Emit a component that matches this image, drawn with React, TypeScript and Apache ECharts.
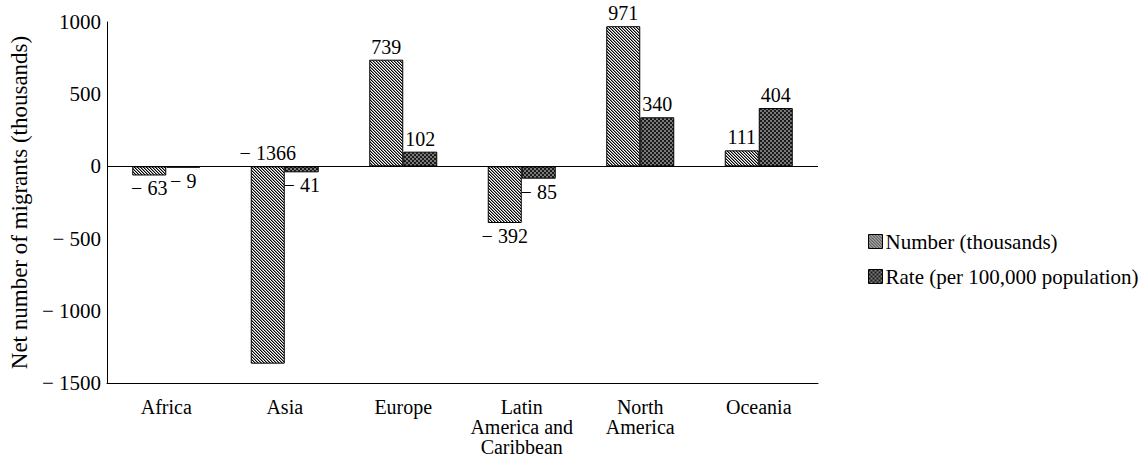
import React, { useEffect, useRef } from "react";
import * as echarts from "echarts";

const categories = ["Africa", "Asia", "Europe", "Latin\nAmerica and\nCaribbean", "North\nAmerica", "Oceania"];
const numberValues = [-63, -1366, 739, -392, 971, 111];
const rateValues = [-9, -41, 102, -85, 340, 404];
const numberLabelPos = ["bottom", "top", "top", "bottom", "top", "top"];
const rateLabelPos = ["bottom", "bottom", "top", "bottom", "top", "top"];
const seriesNames = ["Number (thousands)", "Rate (per 100,000 population)"];
const yTicks = { min: -1500, max: 1000, interval: 500 };
const yAxisName = "Net number of migrants (thousands)";

const FONT = "'Times New Roman', 'Liberation Serif', Times, serif";

function fmt(v: number): string {
  return v < 0 ? "\u2212 " + Math.abs(v) : String(v);
}

function hatchCanvas(): HTMLCanvasElement {
  const c = document.createElement("canvas");
  c.width = 3;
  c.height = 3;
  const ctx = c.getContext("2d")!;
  ctx.fillStyle = "#ffffff";
  ctx.fillRect(0, 0, 3, 3);
  for (let i = 0; i < 3; i++) {
    ctx.fillStyle = "#000000";
    ctx.fillRect(i, i, 1, 1);
    ctx.fillStyle = "#8a8a8a";
    ctx.fillRect((i + 1) % 3, i, 1, 1);
  }
  return c;
}

function checkCanvas(): HTMLCanvasElement {
  const c = document.createElement("canvas");
  c.width = 4;
  c.height = 4;
  const ctx = c.getContext("2d")!;
  ctx.fillStyle = "#7a7a7a";
  ctx.fillRect(0, 0, 4, 4);
  ctx.fillStyle = "#1a1a1a";
  ctx.fillRect(0, 0, 2, 2);
  ctx.fillRect(2, 2, 2, 2);
  return c;
}

export default function App() {
  const ref = useRef<HTMLDivElement>(null);
  useEffect(() => {
    if (!ref.current) return;
    const chart = echarts.init(ref.current, undefined, { renderer: "svg" });
    const hatch = { image: hatchCanvas(), repeat: "repeat" };
    const check = { image: checkCanvas(), repeat: "repeat" };
    const labelBase = {
      show: true,
      color: "#000",
      fontFamily: FONT,
      fontSize: 20,
      distance: 3,
      formatter: (p: any) => fmt(p.value),
    };
    chart.setOption({
      animation: false,
      backgroundColor: "#fff",
      textStyle: { fontFamily: FONT, color: "#000" },
      grid: { left: 107, right: 325, top: 22, bottom: 78, containLabel: false, outerBoundsMode: "none" },
      legend: {
        orient: "vertical",
        left: 863,
        top: 226,
        itemWidth: 14,
        itemHeight: 14,
        itemGap: 14,
        icon: "rect",
        itemStyle: { borderColor: "#000", borderWidth: 1 },
        textStyle: { fontFamily: FONT, fontSize: 21, color: "#000", padding: [0, 0, 0, -2] },
        data: seriesNames,
      },
      xAxis: {
        type: "category",
        data: categories,
        axisLine: { onZero: false, lineStyle: { color: "#000", width: 1 } },
        axisTick: { show: false },
        axisLabel: { color: "#000", fontFamily: FONT, fontSize: 20, lineHeight: 20, margin: 14, interval: 0 },
      },
      yAxis: {
        type: "value",
        min: yTicks.min,
        max: yTicks.max,
        interval: yTicks.interval,
        name: yAxisName,
        nameLocation: "middle",
        nameGap: 76,
        nameTextStyle: { fontFamily: FONT, fontSize: 23, color: "#000" },
        axisLine: { show: true, lineStyle: { color: "#000", width: 1 } },
        axisTick: { show: false },
        splitLine: { show: false },
        axisLabel: { color: "#000", fontFamily: FONT, fontSize: 21, margin: 6, formatter: (v: number) => fmt(v) },
      },
      series: [
        {
          name: seriesNames[0],
          type: "bar",
          barWidth: 34,
          barGap: "0%",
          itemStyle: { color: hatch, borderColor: "#000", borderWidth: 1 },
          data: numberValues.map((v, i) => ({ value: v, label: { position: numberLabelPos[i] } })),
          label: labelBase,
          markLine: {
            silent: true,
            symbol: "none",
            label: { show: false },
            lineStyle: { color: "#000", width: 1, type: "solid" },
            data: [{ yAxis: 0 }],
          },
        },
        {
          name: seriesNames[1],
          type: "bar",
          barWidth: 34,
          barGap: "0%",
          itemStyle: { color: check, borderColor: "#000", borderWidth: 1 },
          data: rateValues.map((v, i) => ({ value: v, label: { position: rateLabelPos[i] } })),
          label: labelBase,
        },
      ],
    });
    return () => chart.dispose();
  }, []);
  return <div ref={ref} style={{ position: "absolute", left: 0, top: 0, width: 1143, height: 461 }} />;
}
